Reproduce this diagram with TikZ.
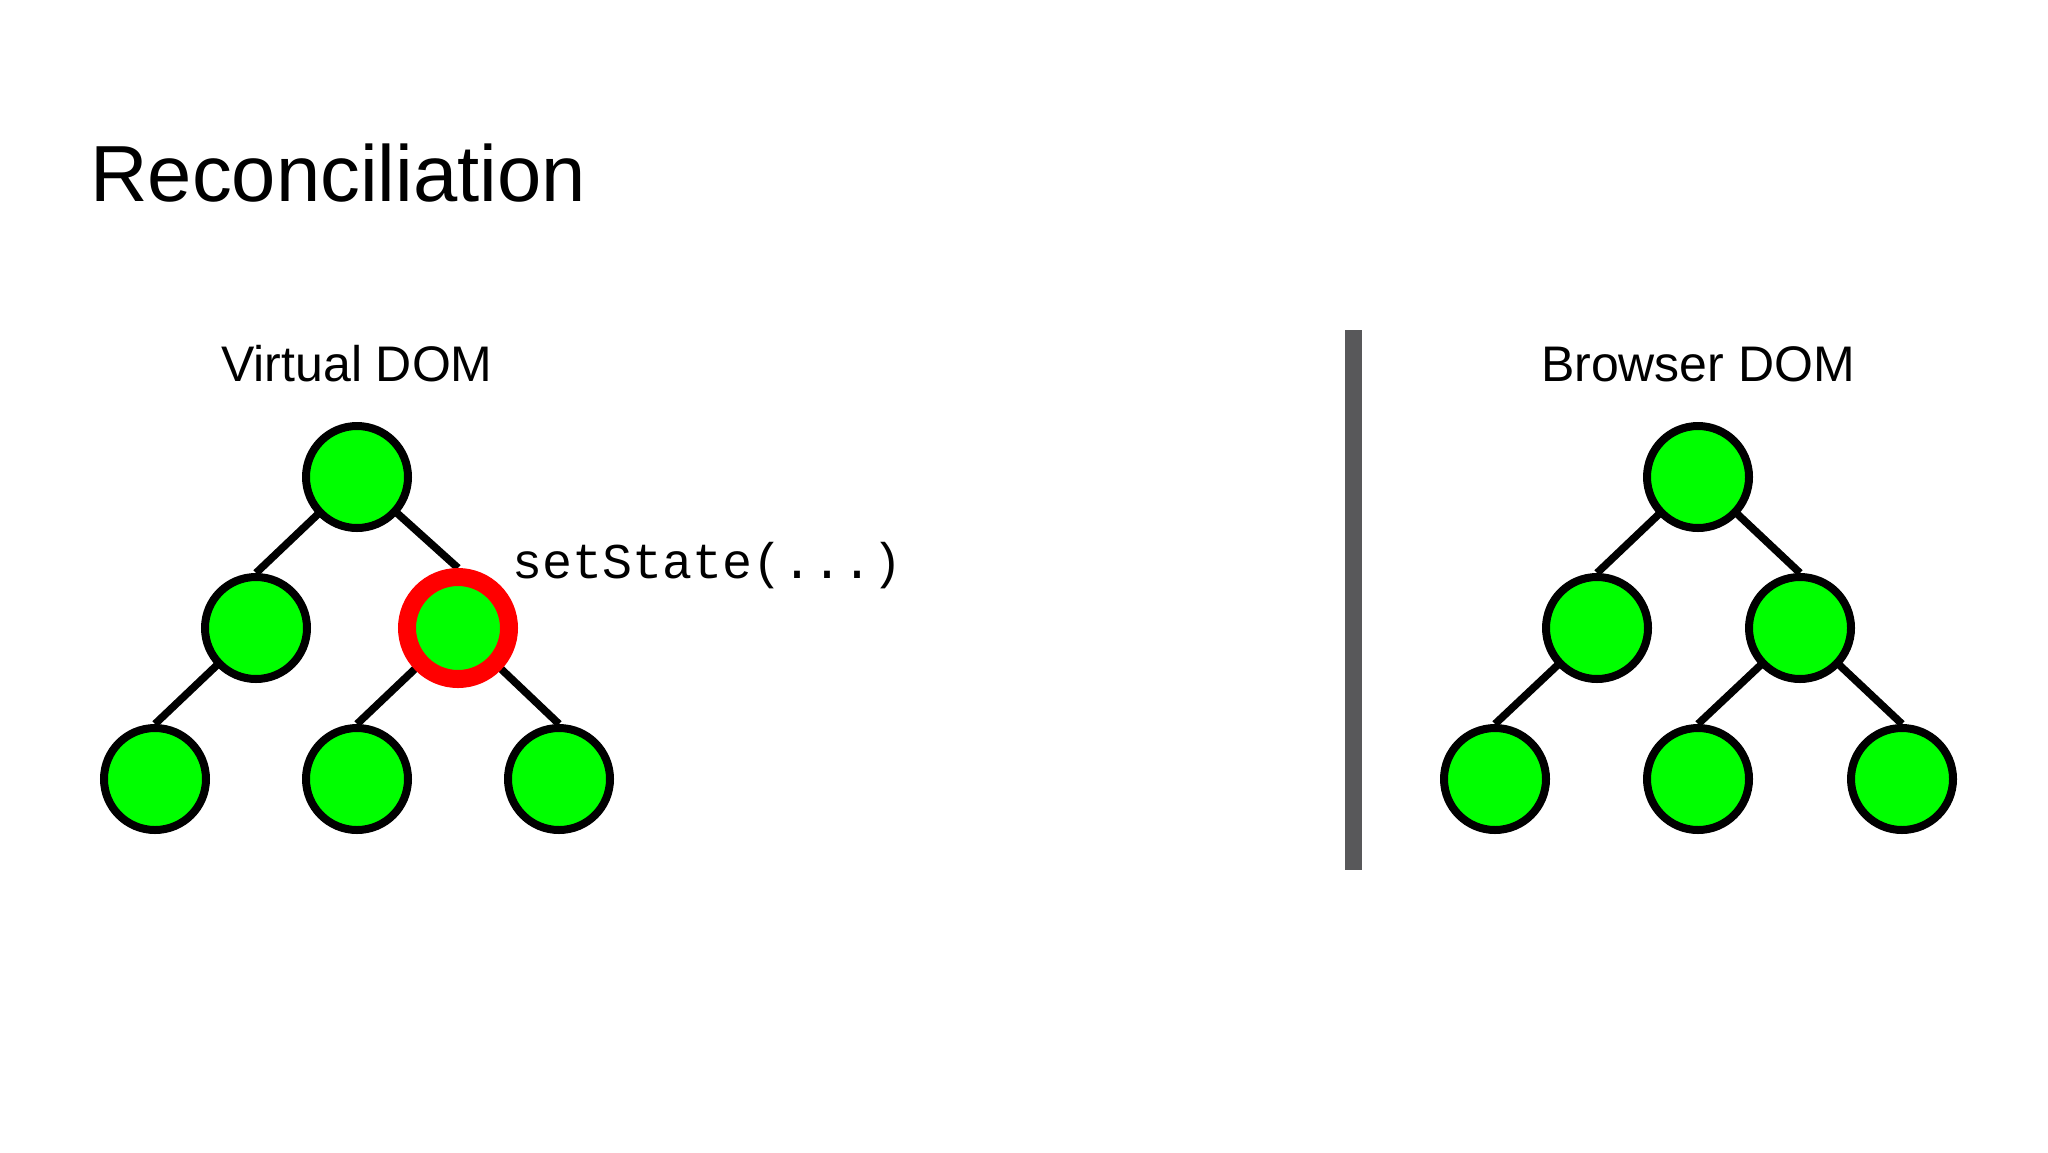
\documentclass[tikz,border=0pt]{standalone}
\usepackage{fontspec}
\setmainfont{Liberation Sans}
\setmonofont{Liberation Mono}
\usetikzlibrary{backgrounds}
\definecolor{nodegreen}{RGB}{0,255,0}
\definecolor{ringred}{RGB}{255,0,0}
\definecolor{divgray}{RGB}{88,88,90}
\begin{document}
\begin{tikzpicture}[x=0.5pt,y=-0.5pt,
  treenode/.style={circle,draw=black,line width=4pt,fill=nodegreen,minimum size=51pt,inner sep=0pt},
  hotnode/.style={circle,draw=ringred,line width=9pt,fill=nodegreen,minimum size=51pt,inner sep=0pt},
  edge/.style={line width=3.8pt,draw=black},
  lbl/.style={inner sep=0pt,anchor=base,font=\fontsize{25pt}{30pt}\selectfont}]
\useasboundingbox (0,0) rectangle (2048,1152);

% title
\node[inner sep=0pt,anchor=base west,font=\fontsize{39.8pt}{47pt}\selectfont] (title) at (90,201) {Reconciliation};

% labels
\node[lbl] (vlabel) at (357,381) {Virtual DOM};
\node[lbl] (blabel) at (1698,381) {Browser DOM};
\node[inner sep=0pt,anchor=base west,font=\fontsize{25pt}{29pt}\ttfamily] (setst) at (512,578) {setState(...)};

% divider
\fill[divgray] (1345,330) rectangle (1362,870);

% left tree
\node[treenode] (r) at (357,477) {};
\node[treenode] (a) at (256,628) {};
\node[hotnode]  (b) at (458,628) {};
\node[treenode] (c) at (155,779) {};
\node[treenode] (d) at (357,779) {};
\node[treenode] (e) at (559,779) {};

% right tree
\node[treenode] (R) at (1698,477) {};
\node[treenode] (A) at (1597,628) {};
\node[treenode] (B) at (1800,628) {};
\node[treenode] (C) at (1495,779) {};
\node[treenode] (D) at (1698,779) {};
\node[treenode] (E) at (1902,779) {};

\begin{scope}[on background layer]
  \draw[edge] (r.center) -- (a.north);
  \draw[edge] (r.center) -- (b.north);
  \draw[edge] (a.center) -- (c.north);
  \draw[edge] (b.center) -- (d.north);
  \draw[edge] (b.center) -- (e.north);
  \draw[edge] (R.center) -- (A.north);
  \draw[edge] (R.center) -- (B.north);
  \draw[edge] (A.center) -- (C.north);
  \draw[edge] (B.center) -- (D.north);
  \draw[edge] (B.center) -- (E.north);
\end{scope}
\end{tikzpicture}
\end{document}
